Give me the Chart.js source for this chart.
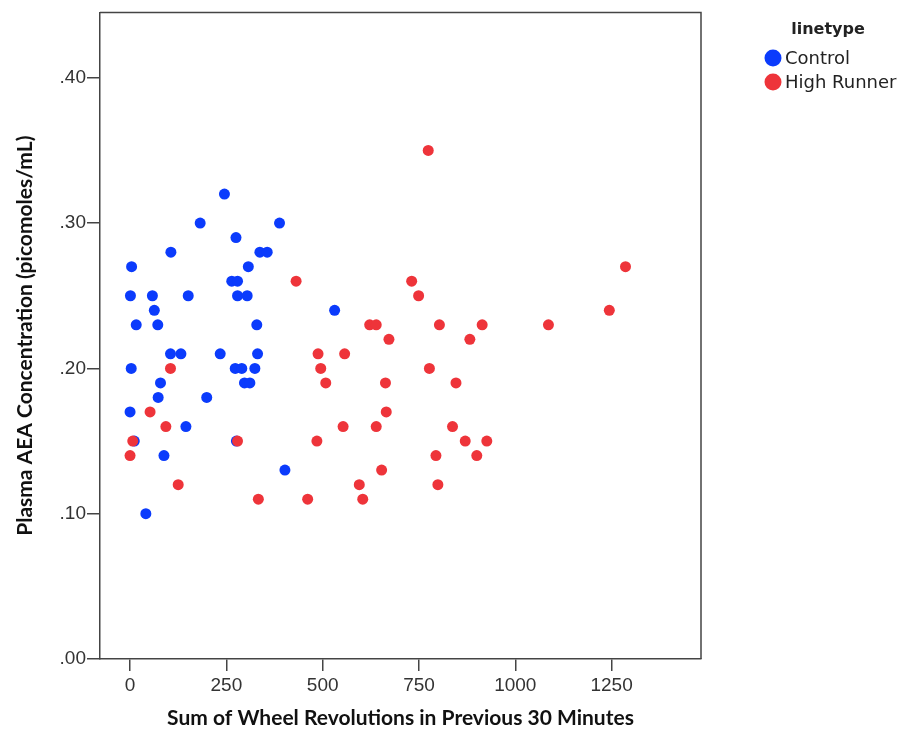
<!DOCTYPE html>
<html>
<head>
<meta charset="utf-8">
<title>Plasma AEA vs wheel revolutions</title>
<script src="https://cdn.jsdelivr.net/npm/chart.js@4.4.1/dist/chart.umd.min.js"></script>
<style>
  html, body { margin: 0; padding: 0; background: #ffffff; }
  #wrap { width: 902px; height: 733px; }
</style>
</head>
<body>
<div id="wrap"><canvas id="scatter" width="902" height="733"></canvas></div>
<script>
// series names and colours
const seriesNames = ['Control', 'High Runner'];
const seriesColors = ['#0b3bfc', '#ee343a'];

// Control mice: wheel revolutions / AEA concentration
const controlX = [245, 182, 388, 275, 106, 337, 356, 4, 307, 264,
                  279, 1, 58, 151, 279, 304, 63, 531, 16, 72,
                  329, 105, 132, 234, 331, 3, 273, 290, 324, 79,
                  297, 311, 73, 199, 0, 145, 11, 276, 88, 402, 41];
const controlY = [.32, .30, .30, .29, .28, .28, .28, .27, .27, .26,
                  .26, .25, .25, .25, .25, .25, .24, .24, .23, .23,
                  .23, .21, .21, .21, .21, .20, .20, .20, .20, .19,
                  .19, .19, .18, .18, .17, .16, .15, .15, .14, .13, .10];

// High Runner mice
const runnerX = [774, 1286, 431, 731, 749, 1244, 622, 639, 803, 914,
                 1086, 672, 882, 488, 557, 105, 495, 777, 508, 663,
                 846, 52, 665, 93, 553, 639, 837, 7, 279, 485,
                 870, 926, 0, 794, 900, 653, 125, 595, 799, 333, 461, 604];
const runnerY = [.35, .27, .26, .26, .25, .24, .23, .23, .23, .23,
                 .23, .22, .22, .21, .21, .20, .20, .20, .19, .19,
                 .19, .17, .17, .16, .16, .16, .16, .15, .15, .15,
                 .15, .15, .14, .14, .14, .13, .12, .12, .12, .11, .11, .11];

// axis ticks
const xTicks = [0, 250, 500, 750, 1000, 1250];
const yTicks = [0, .10, .20, .30, .40];

const xTitle = 'Sum of Wheel Revolutions in Previous 30 Minutes';
const yTitle = 'Plasma AEA Concentration (picomoles/mL)';
const legendTitle = 'linetype';

function toPoints(xs, ys) {
    return xs.map((x, i) => ({ x: x, y: ys[i] }));
}

const axisColor = '#444444';
const tickFont = { family: '"Liberation Sans", Arial, sans-serif', size: 19 };
const titleFont = { family: 'Lato, "Open Sans", sans-serif', size: 21, weight: 'bold' };

// box around the plot (top and right sides) + legend on the right
const framePlugin = {
    id: 'frame',
    afterDraw(chart) {
        const ctx = chart.ctx;
        const a = chart.chartArea;
        ctx.save();
        ctx.strokeStyle = axisColor;
        ctx.lineWidth = 1.5;
        ctx.beginPath();
        ctx.moveTo(a.left, a.top);
        ctx.lineTo(a.right, a.top);
        ctx.lineTo(a.right, a.bottom);
        ctx.stroke();

        // legend
        ctx.fillStyle = '#222222';
        ctx.textBaseline = 'middle';
        ctx.textAlign = 'center';
        ctx.font = 'bold 16px "DejaVu Sans", sans-serif';
        ctx.fillText(legendTitle, 828, 30);
        ctx.textAlign = 'left';
        ctx.font = '18px "DejaVu Sans", sans-serif';
        seriesNames.forEach((name, i) => {
            const y = 58 + i * 24;
            ctx.fillStyle = seriesColors[i];
            ctx.beginPath();
            ctx.arc(773, y, 8.5, 0, Math.PI * 2);
            ctx.fill();
            ctx.fillStyle = '#222222';
            ctx.fillText(name, 785, y + 1);
        });
        ctx.restore();
    }
};

const ctx = document.getElementById('scatter');
new Chart(ctx, {
    type: 'scatter',
    data: {
        datasets: [
            {
                label: seriesNames[0],
                data: toPoints(controlX, controlY),
                backgroundColor: seriesColors[0],
                borderWidth: 0,
                pointRadius: 5.5,
                pointHoverRadius: 5.5,
                order: 1
            },
            {
                label: seriesNames[1],
                data: toPoints(runnerX, runnerY),
                backgroundColor: seriesColors[1],
                borderWidth: 0,
                pointRadius: 5.5,
                pointHoverRadius: 5.5,
                order: 0
            }
        ]
    },
    options: {
        responsive: false,
        animation: false,
        layout: {
            padding: { left: 0, right: 201, top: 10, bottom: 0 }
        },
        plugins: {
            legend: { display: false },
            tooltip: { enabled: false }
        },
        scales: {
            x: {
                type: 'linear',
                min: -78,
                max: 1482,
                afterBuildTicks: function(scale) {
                    scale.ticks = xTicks.map(v => ({ value: v }));
                },
                afterFit: function(scale) {
                    scale.height = 74;
                },
                border: { display: true, color: axisColor, width: 1.5 },
                grid: {
                    drawOnChartArea: false,
                    drawTicks: true,
                    tickLength: 12,
                    color: axisColor,
                    lineWidth: 1.5
                },
                ticks: {
                    color: '#333333',
                    font: tickFont,
                    padding: 3,
                    maxRotation: 0,
                    autoSkip: false,
                    callback: function(value) {
                        return String(value);
                    }
                },
                title: {
                    display: true,
                    text: xTitle,
                    color: '#111111',
                    font: titleFont,
                    padding: { top: 0, bottom: 2 }
                }
            },
            y: {
                type: 'linear',
                min: 0,
                max: 0.445,
                afterBuildTicks: function(scale) {
                    scale.ticks = yTicks.map(v => ({ value: v }));
                },
                afterFit: function(scale) {
                    scale.width = 100;
                },
                border: { display: true, color: axisColor, width: 1.5 },
                grid: {
                    drawOnChartArea: false,
                    drawTicks: true,
                    tickLength: 13,
                    color: axisColor,
                    lineWidth: 1.5
                },
                ticks: {
                    color: '#333333',
                    font: tickFont,
                    padding: 1,
                    callback: function(value) {
                        return value.toFixed(2).replace(/^0/, '');
                    }
                },
                title: {
                    display: true,
                    text: yTitle,
                    color: '#111111',
                    font: titleFont,
                    padding: { top: 13, bottom: 0 }
                }
            }
        }
    },
    plugins: [framePlugin]
});
</script>
</body>
</html>
